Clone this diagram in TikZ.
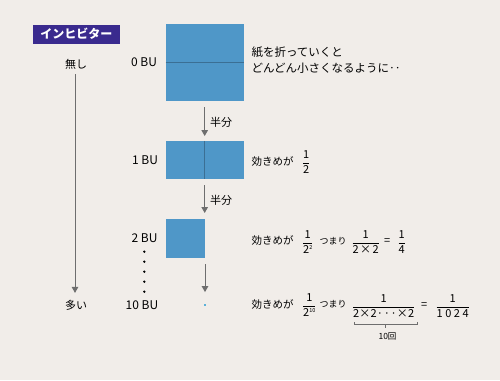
\documentclass[tikz,border=0pt]{standalone}
\usepackage{fontspec}
\setmainfont{Noto Sans CJK JP}
\usetikzlibrary{arrows.meta}
\definecolor{bg}{HTML}{F1EDE9}
\definecolor{paper}{HTML}{4F97C8}
\definecolor{fold}{HTML}{3B6F94}
\definecolor{purp}{HTML}{3A2A8E}
\definecolor{arr}{HTML}{6E6E6E}
\definecolor{dotblue}{HTML}{5BB0D8}
\newcommand{\fr}[2]{$\displaystyle\frac{\mbox{#1}}{\mbox{#2}}$}
\newcommand{\sups}[1]{\raisebox{4pt}{\fontsize{5.5}{6}\selectfont #1}}
\newcommand{\middots}{\raisebox{0pt}{·\hspace{0.6pt}·\hspace{0.6pt}·}}
\begin{document}
\begin{tikzpicture}[x=1pt,y=-1pt,
  every node/.style={inner sep=0pt, outer sep=0pt, font=\fontsize{11}{13}\selectfont},
  paperbox/.style={fill=paper, draw=none},
  foldline/.style={draw=fold, line width=1pt},
  flow/.style={draw=arr, line width=1pt, -{Triangle[length=6pt,width=6.5pt]}},
  bu/.style={font=\fontsize{12}{14}\selectfont},
  kiki/.style={anchor=west, font=\fontsize{10.5}{12}\selectfont},
  tsumari/.style={anchor=west, font=\fontsize{9}{11}\selectfont},
  frc/.style={anchor=west, font=\fontsize{11}{13}\selectfont},
  brk/.style={draw=arr, line width=0.5pt}
]
\fill[bg] (0,0) rectangle (500,380);
\useasboundingbox (0,0) rectangle (500,380);

% label
\node[fill=purp, text=white, minimum width=87pt, minimum height=19pt,
      font=\fontsize{12}{14}\selectfont\bfseries] (inh) at (76.3,34) {インヒビター};

% left scale
\node (none) at (76,64) {無し};
\node (many) at (76,305) {多い};
\draw[flow, shorten <=5pt, shorten >=7pt] ([xshift=-1pt]none.south) -- ([xshift=-1pt]many.north);

% BU labels
\node[bu] (b0) at (144,62.5) {0 BU};
\node[bu] (b1) at (145,160) {1 BU};
\node[bu] (b2) at (144.5,238) {2 BU};
\node[bu] (b10) at (142,305) {10 BU};
\foreach \k in {0,...,4} { \fill (144.3,251.7+10*\k) circle (1.3pt); }

% papers
\node[paperbox, minimum width=78pt, minimum height=77pt] (r0) at (204.7,62.5) {};
\draw[foldline] (r0.west) -- (r0.east);
\node[paperbox, minimum width=78pt, minimum height=38.3pt] (r1) at (204.7,159.9) {};
\draw[foldline] (r1.north) -- (r1.south);
\node[paperbox, minimum width=39.3pt, minimum height=39pt] (r2) at (185.35,238.5) {};
\node[fill=dotblue, minimum width=1.8pt, minimum height=1.8pt] (r10) at (205,305) {};

% arrows
\draw[flow, shorten <=6pt, shorten >=4.7pt] (r0.south) -- (r1.north);
\draw[flow, shorten <=6pt, shorten >=6pt] (r1.south) -- (r1.south |- r2.north);
\draw[flow, shorten <=6pt, shorten >=12pt] (r2.south east) -- (r10.north);
\node[anchor=west] (h1) at (210,122.5) {半分};
\node[anchor=west] (h2) at (210,200) {半分};

% descriptions
\node[anchor=west, align=left, font=\fontsize{11.5}{15.4}\selectfont] (desc) at (251.5,60) {紙を折っていくと\\どんどん小さくなるように‥};

\node[kiki] (k1) at (251.5,161) {効きめが};
\node[frc] (f1) at (302,162) {\fr{1}{2}};

\node[kiki] (k2) at (251.5,240) {効きめが};
\node[frc] (f2) at (302,242) {\fr{1}{2\sups{2}}};
\node[tsumari] (t2) at (319.5,241) {つまり};
\node[frc] (f2b) at (351.5,242) {\fr{1}{\makebox[26pt][s]{2\hfil×\hfil2}}};
\node[frc] (e2) at (384,241.5) {=};
\node[frc] (f2c) at (397.5,242) {\fr{1}{4}};

\node[kiki] (k3) at (251.5,304) {効きめが};
\node[frc] (f3) at (302,305) {\fr{1}{2\sups{10}}};
\node[tsumari] (t3) at (319.5,304) {つまり};
\node[frc] (f3b) at (352,306) {\fr{1}{\makebox[61pt][s]{2\hfil×\hfil2\hfil\middots\hfil×\hfil2}}};
\node[frc] (e3) at (421,305.5) {=};
\node[frc] (f3c) at (435.5,306) {\fr{1}{\makebox[32pt][s]{1\hfil0\hfil2\hfil4}}};

\draw[brk] (354,322) -- (354,324.5) -- (417,324.5) -- (417,322);
\draw[brk] (385.7,324.5) -- (385.7,327.5);
\node[font=\fontsize{8.5}{10}\selectfont] (ten) at (387.5,336.5) {10回};
\end{tikzpicture}
\end{document}
